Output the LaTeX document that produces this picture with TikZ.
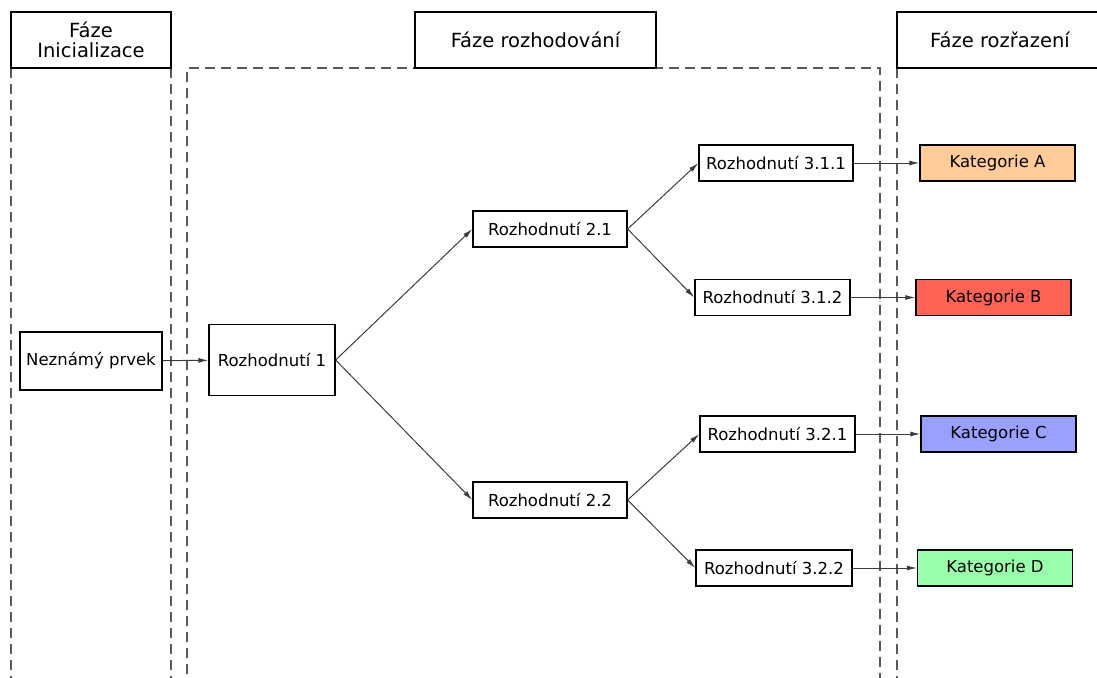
\documentclass[tikz,border=0pt]{standalone}
\usepackage{fontspec}
\setmainfont{DejaVu Sans}
\usetikzlibrary{arrows.meta, positioning}
\definecolor{catA}{RGB}{255,204,153}
\definecolor{catB}{RGB}{255,99,85}
\definecolor{catC}{RGB}{153,160,255}
\definecolor{catD}{RGB}{153,255,170}
\definecolor{laneGrey}{RGB}{90,90,90}
\definecolor{linkGrey}{RGB}{60,60,60}

\begin{document}
\begin{tikzpicture}[x=1pt, y=-1pt, >={Latex[length=10pt,width=5pt]},
    font=\fontsize{16.5}{20}\selectfont,
    box/.style={draw, line width=1.3pt, inner sep=0pt, fill=white},
    phase/.style={box, minimum height=56pt, align=center, font=\fontsize{19.5}{23}\selectfont},
    cat/.style={box, minimum width=155pt, minimum height=36pt},
    lane/.style={laneGrey, line width=1.1pt, dash pattern=on 10pt off 6pt},
    link/.style={->, linkGrey, line width=1pt}]
  \useasboundingbox (0,0) rectangle (1097,677);
  % Lanes
  \draw[lane] (11,68) -- (11,690);
  \draw[lane] (171,68) -- (171,690);
  \draw[lane] (187,690) -- (187,68) -- (880,68) -- (880,690);
  \draw[lane] (897,68) -- (897,690);
  % Phase headers
  \node[phase, minimum width=160pt] (phInit) at (91,40) {Fáze\\[-3pt]Inicializace};
  \node[phase, minimum width=241pt] (phDec) at (535.5,40) {Fáze rozhodování};
  \node[phase, minimum width=206pt] (phSort) at (1000,40) {Fáze rozřazení};
  % Decision nodes
  \node[box, minimum width=142pt, minimum height=58pt] (unk) at (91,361) {Neznámý prvek};
  \node[box, minimum width=126pt, minimum height=71pt] (r1) at (272,360) {Rozhodnutí 1};
  \node[box, minimum width=154pt, minimum height=36pt] (r21) at (550,229) {Rozhodnutí 2.1};
  \node[box, minimum width=154pt, minimum height=36pt] (r22) at (550,500) {Rozhodnutí 2.2};
  \node[box, minimum width=154pt, minimum height=36pt] (r311) at (776,163) {Rozhodnutí 3.1.1};
  \node[box, minimum width=155pt, minimum height=36pt] (r312) at (772.5,297.5) {Rozhodnutí 3.1.2};
  \node[box, minimum width=155pt, minimum height=36pt] (r321) at (777.5,434) {Rozhodnutí 3.2.1};
  \node[box, minimum width=156pt, minimum height=36pt] (r322) at (774,568) {Rozhodnutí 3.2.2};
  % Categories
  \node[cat, fill=catA] (kA) at (997.5,163) {Kategorie A};
  \node[cat, fill=catB] (kB) at (993.5,297.5) {Kategorie B};
  \node[cat, fill=catC] (kC) at (998.5,434) {Kategorie C};
  \node[cat, fill=catD] (kD) at (995,568) {Kategorie D};
  % Links
  \draw[link] (unk) -- (r1);
  \draw[link] (r1.east) -- (r21.west);
  \draw[link] (r1.east) -- (r22.west);
  \draw[link] (r21.east) -- (r311.west);
  \draw[link] (r21.east) -- (r312.west);
  \draw[link] (r22.east) -- (r321.west);
  \draw[link] (r22.east) -- (r322.west);
  \draw[link] (r311) -- (kA);
  \draw[link] (r312) -- (kB);
  \draw[link] (r321) -- (kC);
  \draw[link] (r322) -- (kD);
\end{tikzpicture}
\end{document}
